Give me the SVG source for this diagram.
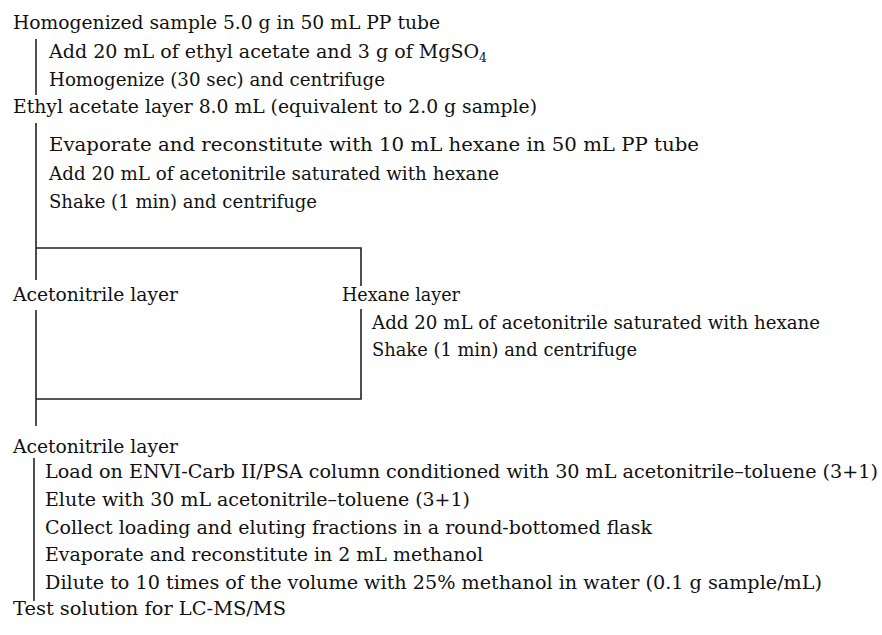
<svg xmlns="http://www.w3.org/2000/svg" width="882" height="635" viewBox="0 0 882 635">
<style>
text{font-family:"DejaVu Serif","Liberation Serif",serif;font-size:18.5px;fill:#111}
.sub{font-size:12px}
.ln{stroke:#222;stroke-width:1.6;fill:none}
</style>
<rect width="882" height="635" fill="#fff"/>
<g id="connectors">
<path class="ln" d="M36 39V95"/>
<path class="ln" d="M36 123V280M36 248H361V286M361 309V399H36M36 310V426"/>
<path class="ln" d="M34 458V601"/>
</g>
<g id="n1"><text x="13" y="29" textLength="427" lengthAdjust="spacingAndGlyphs">Homogenized sample 5.0 g in 50 mL PP tube</text></g>
<g id="n2"><text x="49" y="58" textLength="438" lengthAdjust="spacingAndGlyphs">Add 20 mL of ethyl acetate and 3 g of MgSO<tspan class="sub" dy="4">4</tspan></text>
<text x="49" y="86" textLength="336" lengthAdjust="spacingAndGlyphs">Homogenize (30 sec) and centrifuge</text></g>
<g id="n3"><text x="13" y="113" textLength="524" lengthAdjust="spacingAndGlyphs">Ethyl acetate layer 8.0 mL (equivalent to 2.0 g sample)</text></g>
<g id="n4"><text x="49" y="151" textLength="650" lengthAdjust="spacingAndGlyphs">Evaporate and reconstitute with 10 mL hexane in 50 mL PP tube</text>
<text x="49" y="180" textLength="450" lengthAdjust="spacingAndGlyphs">Add 20 mL of acetonitrile saturated with hexane</text>
<text x="49" y="208" textLength="268" lengthAdjust="spacingAndGlyphs">Shake (1 min) and centrifuge</text></g>
<g id="n5"><text x="13" y="301" textLength="165" lengthAdjust="spacingAndGlyphs">Acetonitrile layer</text></g>
<g id="n6"><text x="342" y="301" textLength="118" lengthAdjust="spacingAndGlyphs">Hexane layer</text></g>
<g id="n7"><text x="372" y="329" textLength="448" lengthAdjust="spacingAndGlyphs">Add 20 mL of acetonitrile saturated with hexane</text>
<text x="372" y="356" textLength="265" lengthAdjust="spacingAndGlyphs">Shake (1 min) and centrifuge</text></g>
<g id="n8"><text x="13" y="453" textLength="165" lengthAdjust="spacingAndGlyphs">Acetonitrile layer</text></g>
<g id="n9"><text x="45" y="478" textLength="833" lengthAdjust="spacingAndGlyphs">Load on ENVI-Carb II/PSA column conditioned with 30 mL acetonitrile–toluene (3+1)</text>
<text x="45" y="506" textLength="425" lengthAdjust="spacingAndGlyphs">Elute with 30 mL acetonitrile–toluene (3+1)</text>
<text x="45" y="534" textLength="607" lengthAdjust="spacingAndGlyphs">Collect loading and eluting fractions in a round-bottomed flask</text>
<text x="45" y="561" textLength="438" lengthAdjust="spacingAndGlyphs">Evaporate and reconstitute in 2 mL methanol</text>
<text x="45" y="589" textLength="777" lengthAdjust="spacingAndGlyphs">Dilute to 10 times of the volume with 25% methanol in water (0.1 g sample/mL)</text></g>
<g id="n10"><text x="13" y="615" textLength="273" lengthAdjust="spacingAndGlyphs">Test solution for LC-MS/MS</text></g>
</svg>
